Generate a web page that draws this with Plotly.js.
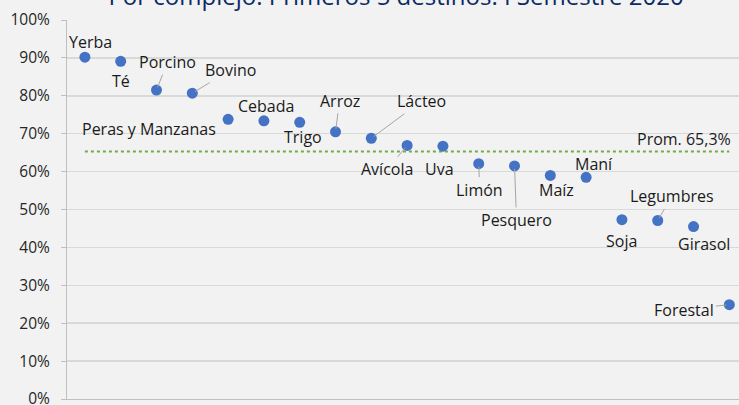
<!DOCTYPE html>
<html>
<head>
<meta charset="utf-8">
<script src="https://cdn.plot.ly/plotly-3.0.1.min.js"></script>
<style>html,body{margin:0;padding:0;background:#f2f2f2;}#chart{width:739px;height:405px;}</style>
</head>
<body>
<div id="chart"></div>
<script>
// Data
const complejos = ["Yerba","Té","Porcino","Bovino","Peras y Manzanas","Cebada","Trigo","Arroz","Lácteo","Avícola","Uva","Limón","Pesquero","Maíz","Maní","Soja","Legumbres","Girasol","Forestal"];
const participacion = [0.902, 0.891, 0.815, 0.807, 0.738, 0.734, 0.730, 0.705, 0.688, 0.669, 0.667, 0.621, 0.615, 0.590, 0.585, 0.473, 0.471, 0.455, 0.249];
const promedio = 0.653;
const promedioLabel = "Prom. 65,3%";
const titulo = "Por complejo. Primeros 5 destinos. I Semestre 2020";

// Label placement (pixel offsets from each point) and whether a leader line is drawn
const labelDx = [6, 0, 11, 38, -79, 2, 3, 4, 50, -20, -3, 1, 2, 6, 8, 0, 14, 10, -45];
const labelDy = [-15, 20, -28, -23, 10, -15, 15, -31, -37, 24, 23, 26, 54, 15, -13, 21, -24, 17, 5];
const leader  = [0, 0, 1, 1, 0, 0, 0, 1, 1, 1, 0, 1, 1, 0, 0, 0, 1, 0, 1];

const FONT = "Open Sans, sans-serif";

const traces = [
  {
    x: complejos.map(c => c), y: complejos.map(() => promedio),
    type: "scatter", mode: "lines",
    line: {color: "#70ad47", width: 2, dash: "dot"},
    hoverinfo: "skip", showlegend: false
  },
  {
    x: complejos, y: participacion,
    type: "scatter", mode: "markers",
    marker: {color: "#4472c4", size: 11},
    showlegend: false
  }
];

const annotations = complejos.map((c, i) => ({
  x: c, y: participacion[i], xref: "x", yref: "y",
  text: c, showarrow: true, arrowhead: 0, arrowwidth: 1,
  arrowcolor: leader[i] ? "#a6a6a6" : "rgba(0,0,0,0)",
  ax: labelDx[i], ay: labelDy[i], standoff: 3,
  font: {family: FONT, size: 16, color: "#1a1a1a"}
}));
annotations.push({
  x: complejos[complejos.length - 1], y: promedio, xref: "x", yref: "y",
  text: promedioLabel, showarrow: false, xanchor: "right", yanchor: "bottom",
  xshift: 4, yshift: 0,
  font: {family: FONT, size: 16, color: "#1a1a1a"}
});

const layout = {
  width: 739, height: 405,
  paper_bgcolor: "#f2f2f2", plot_bgcolor: "#f2f2f2",
  margin: {l: 67, r: 0, t: 20, b: 6},
  title: {
    text: titulo, xref: "container", x: 396/739, xanchor: "center",
    yref: "container", y: 1 - 5/405, yanchor: "bottom",
    font: {family: FONT, size: 24, color: "#0b2a66"}
  },
  xaxis: {
    type: "category", range: [-0.5, 18.27],
    showticklabels: false, showgrid: false, zeroline: false,
    showline: true, linecolor: "#bfbfbf", linewidth: 1, ticks: ""
  },
  yaxis: {
    range: [0, 1], dtick: 0.1, tickformat: ".0%",
    showgrid: true, gridcolor: "#d9d9d9", gridwidth: 1.5,
    zeroline: false, showline: true, linecolor: "#bfbfbf", linewidth: 1,
    ticks: "outside", ticklen: 5, tickcolor: "#bfbfbf",
    ticklabelstandoff: 8, ticklabeloverflow: "allow",
    tickfont: {family: FONT, size: 15.5, color: "#262626"}
  },
  annotations: annotations,
  hovermode: false
};

Plotly.newPlot("chart", traces, layout, {displayModeBar: false, staticPlot: true});
</script>
</body>
</html>
